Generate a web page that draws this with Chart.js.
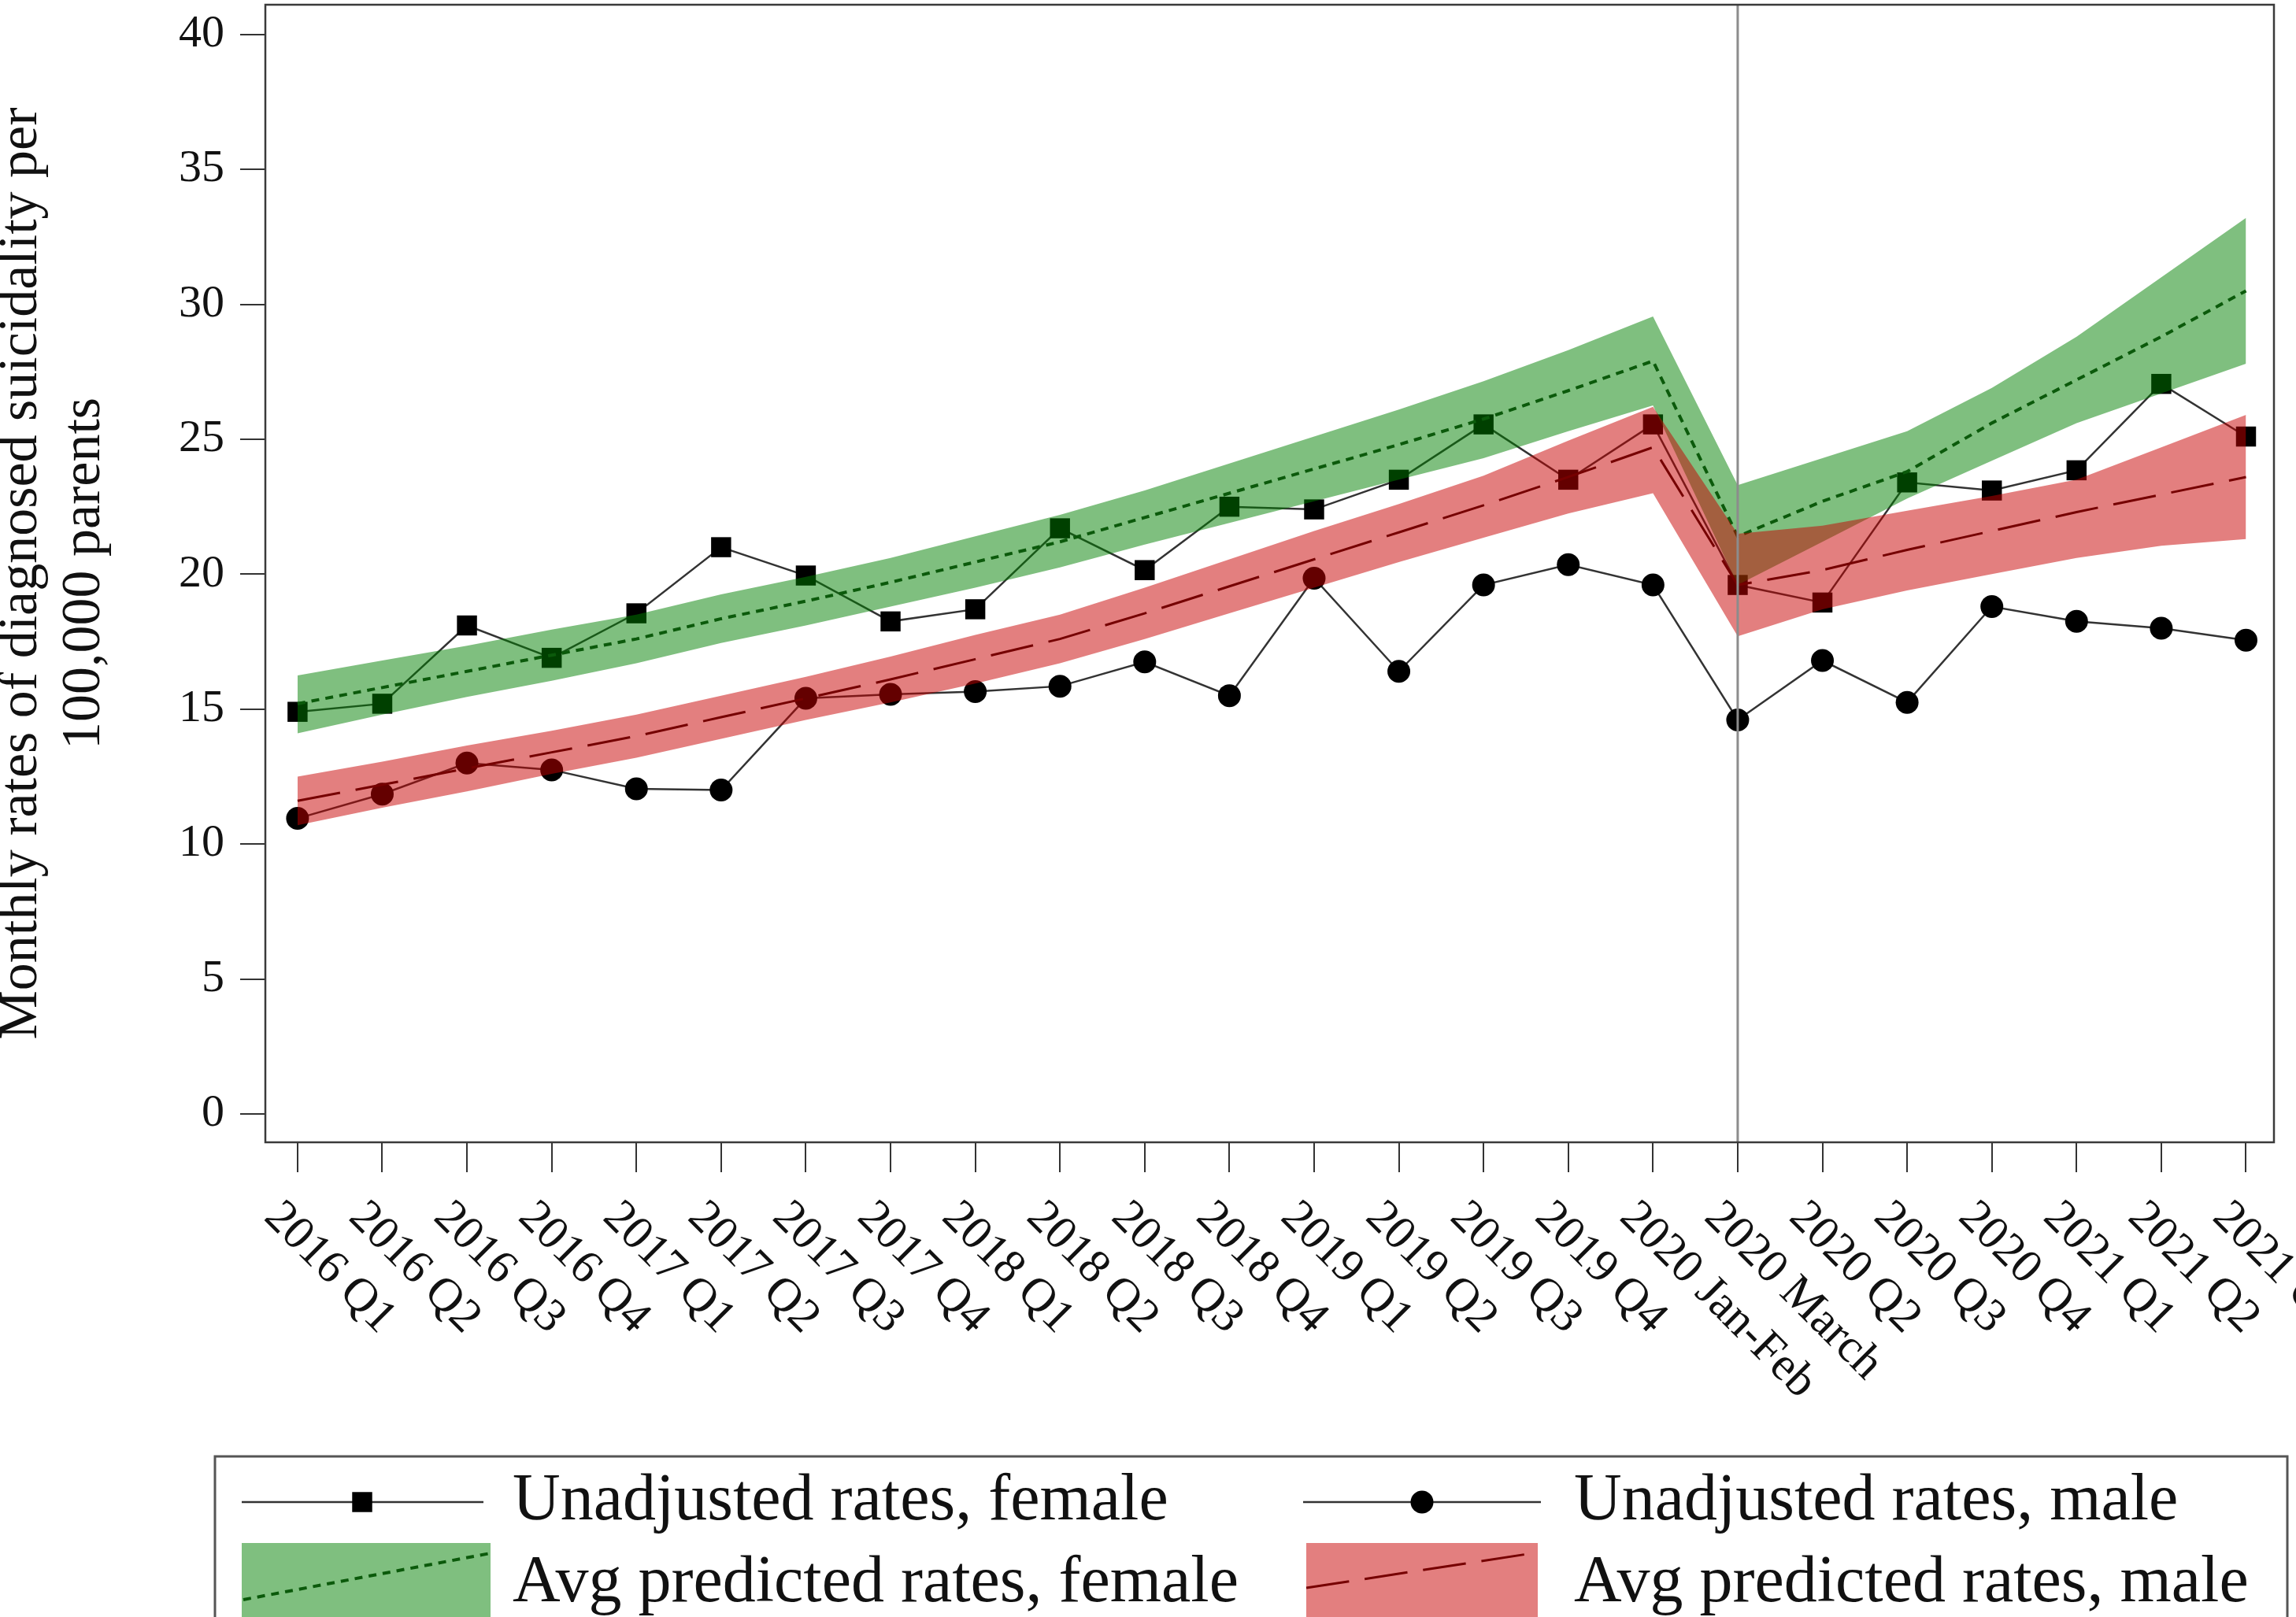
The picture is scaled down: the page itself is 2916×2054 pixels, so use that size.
<!DOCTYPE html>
<html>
<head>
<meta charset="utf-8">
<script src="https://cdn.jsdelivr.net/npm/chart.js@4.4.1/dist/chart.umd.min.js"></script>
<style>
  html, body { margin: 0; padding: 0; background: #fff; }
  #wrap { width: 2916px; height: 2054px; position: relative; }
</style>
</head>
<body>
<div id="wrap"><canvas id="chart-suicidality"></canvas></div>
<script>
/* ============================================
   SUICIDALITY RATES – UNADJUSTED VS PREDICTED
   ============================================ */

// ─── DATA ────────────────────────────────────────────────────
const PERIODS = [
  '2016 Q1', '2016 Q2', '2016 Q3', '2016 Q4',
  '2017 Q1', '2017 Q2', '2017 Q3', '2017 Q4',
  '2018 Q1', '2018 Q2', '2018 Q3', '2018 Q4',
  '2019 Q1', '2019 Q2', '2019 Q3', '2019 Q4',
  '2020 Jan-Feb', '2020 March', '2020 Q2', '2020 Q3', '2020 Q4',
  '2021 Q1', '2021 Q2', '2021 Q3'
];

const UNADJ_FEMALE = [14.9, 15.2, 18.1, 16.9, 18.55, 21.0, 19.95, 18.25, 18.7, 21.7, 20.15, 22.5,
  22.4, 23.5, 25.55, 23.5, 25.55, 19.6, 18.95, 23.4, 23.1, 23.85, 27.05, 25.1];
const UNADJ_MALE = [10.95, 11.85, 13.0, 12.75, 12.05, 12.0, 15.4, 15.55, 15.65, 15.85, 16.75, 15.5,
  19.85, 16.4, 19.6, 20.35, 19.6, 14.6, 16.8, 15.25, 18.8, 18.25, 18.0, 17.55];

const PRED_FEMALE = [15.2, 15.8, 16.4, 17.0, 17.6, 18.35, 19.0, 19.7, 20.45, 21.2, 22.1, 23.0,
  23.9, 24.8, 25.75, 26.8, 27.9, 21.4, 22.7, 23.8, 25.6, 27.2, 28.8, 30.5];
const PRED_FEMALE_HI = [16.25, 16.8, 17.35, 17.95, 18.5, 19.25, 19.9, 20.6, 21.4, 22.2, 23.1, 24.1,
  25.1, 26.1, 27.15, 28.3, 29.55, 23.3, 24.3, 25.3, 26.9, 28.8, 31.0, 33.2];
const PRED_FEMALE_LO = [14.1, 14.8, 15.45, 16.05, 16.7, 17.45, 18.1, 18.8, 19.5, 20.25, 21.1, 21.9,
  22.7, 23.5, 24.3, 25.3, 26.25, 19.6, 21.2, 22.8, 24.2, 25.6, 26.7, 27.8];

const PRED_MALE = [11.6, 12.2, 12.8, 13.4, 14.0, 14.7, 15.4, 16.1, 16.85, 17.6, 18.55, 19.55,
  20.55, 21.55, 22.55, 23.6, 24.7, 19.6, 20.15, 20.9, 21.6, 22.3, 22.95, 23.6];
const PRED_MALE_HI = [12.5, 13.05, 13.65, 14.2, 14.8, 15.5, 16.2, 16.95, 17.75, 18.5, 19.5, 20.55,
  21.6, 22.6, 23.65, 24.95, 26.2, 21.5, 21.8, 22.35, 22.9, 23.5, 24.7, 25.9];
const PRED_MALE_LO = [10.7, 11.35, 11.95, 12.6, 13.2, 13.9, 14.6, 15.25, 15.95, 16.7, 17.6, 18.55,
  19.5, 20.45, 21.35, 22.25, 23.0, 17.7, 18.7, 19.4, 20.0, 20.6, 21.05, 21.3];

const Y_TICKS = [0, 5, 10, 15, 20, 25, 30, 35, 40];
const BREAK_PERIOD = '2020 March';

const Y_TITLE = ['Monthly rates of diagnosed suicidality per', '100,000 parents'];
const LEGEND_TEXT = [
  'Unadjusted rates, female', 'Unadjusted rates, male',
  'Avg predicted rates, female', 'Avg predicted rates, male'
];

// ─── STYLE ───────────────────────────────────────────────────
const SERIF = "'Liberation Serif', 'Times New Roman', serif";
const GREEN_BAND = 'rgba(0,128,0,0.5)';
const RED_BAND = 'rgba(200,0,0,0.5)';
const GREEN_LINE = '#0b5a0b';
const RED_LINE = '#760000';
const GREEN_DASH = [10, 8];
const RED_DASH = [55, 20];
const SQUARE_R = 18;
const CIRCLE_R = 14.5;

const pts = arr => arr.map((v, i) => ({ x: i, y: v }));

// ─── OVERLAYS: box, break line, rotated labels, legend ───────
const overlay = {
  id: 'overlay',
  afterDatasetsDraw(chart) {
    const { ctx, chartArea: a, scales: { x } } = chart;
    ctx.save();
    // break line at 2020 March
    const bx = x.getPixelForValue(PERIODS.indexOf(BREAK_PERIOD));
    ctx.strokeStyle = '#8c8c8c';
    ctx.lineWidth = 3;
    ctx.beginPath();
    ctx.moveTo(bx, a.top);
    ctx.lineTo(bx, a.bottom);
    ctx.stroke();
    // plot frame
    ctx.strokeStyle = '#3a3a3a';
    ctx.lineWidth = 2.5;
    ctx.strokeRect(a.left, a.top, a.right - a.left, a.bottom - a.top);
    ctx.restore();
  },
  afterDraw(chart) {
    const { ctx, chartArea: a, scales: { x } } = chart;
    ctx.save();

    // x labels, rotated clockwise
    ctx.fillStyle = '#111';
    ctx.font = `60px ${SERIF}`;
    ctx.textAlign = 'left';
    ctx.textBaseline = 'middle';
    PERIODS.forEach((lab, i) => {
      const px = x.getPixelForValue(i);
      ctx.save();
      ctx.translate(px - 33, a.bottom + 86);
      ctx.rotate(Math.PI / 4);
      ctx.fillText(lab, 0, 0);
      ctx.restore();
    });

    // legend frame
    ctx.strokeStyle = '#555';
    ctx.lineWidth = 3;
    ctx.strokeRect(273, 1850, 2632, 400);

    const row1 = 1908, row2 = 2012;
    // female unadjusted
    ctx.strokeStyle = '#333';
    ctx.lineWidth = 2.5;
    ctx.beginPath(); ctx.moveTo(307, row1); ctx.lineTo(614, row1); ctx.stroke();
    ctx.fillStyle = '#000';
    const half = SQUARE_R * Math.SQRT1_2;
    ctx.fillRect(460 - half, row1 - half, 2 * half, 2 * half);
    // male unadjusted
    ctx.beginPath(); ctx.moveTo(1655, row1); ctx.lineTo(1957, row1); ctx.stroke();
    ctx.beginPath(); ctx.arc(1806, row1, CIRCLE_R, 0, Math.PI * 2); ctx.fill();

    // female predicted
    ctx.fillStyle = GREEN_BAND;
    ctx.fillRect(307, 1960, 316, 120);
    ctx.strokeStyle = GREEN_LINE;
    ctx.lineWidth = 4;
    ctx.setLineDash(GREEN_DASH);
    ctx.beginPath(); ctx.moveTo(309, 2032); ctx.lineTo(623, 1973); ctx.stroke();
    // male predicted
    ctx.fillStyle = RED_BAND;
    ctx.fillRect(1659, 1960, 294, 120);
    ctx.strokeStyle = RED_LINE;
    ctx.lineWidth = 3;
    ctx.setLineDash(RED_DASH);
    ctx.beginPath(); ctx.moveTo(1659, 2017); ctx.lineTo(1953, 1972); ctx.stroke();
    ctx.setLineDash([]);

    ctx.fillStyle = '#111';
    ctx.font = `84px ${SERIF}`;
    ctx.fillText(LEGEND_TEXT[0], 651, row1);
    ctx.fillText(LEGEND_TEXT[1], 1999, row1);
    ctx.fillText(LEGEND_TEXT[2], 651, row2);
    ctx.fillText(LEGEND_TEXT[3], 1999, row2);
    ctx.restore();
  }
};

// ─── CHART ───────────────────────────────────────────────────
Chart.defaults.font.family = SERIF;
Chart.defaults.color = '#111';

const unadj = (label, data, style, radius, order) => ({
  label, data: pts(data), order,
  borderColor: '#333', borderWidth: 2.5,
  pointStyle: style, pointRadius: radius, pointBorderWidth: 0,
  pointBackgroundColor: '#000', fill: false, tension: 0,
});

const edge = (label, data, order, fill, color) => ({
  label, data: pts(data), order,
  borderWidth: 0, borderColor: 'transparent', pointRadius: 0,
  backgroundColor: color, fill, tension: 0,
});

const pred = (label, data, order, color, dash, width) => ({
  label, data: pts(data), order,
  borderColor: color, borderWidth: width, borderDash: dash,
  pointRadius: 0, fill: false, tension: 0,
});

new Chart(document.getElementById('chart-suicidality'), {
  type: 'line',
  data: {
    datasets: [
      unadj('Unadjusted rates, male', UNADJ_MALE, 'circle', CIRCLE_R, 5),    // 0
      unadj('Unadjusted rates, female', UNADJ_FEMALE, 'rect', SQUARE_R, 4),  // 1
      edge('Female upper', PRED_FEMALE_HI, 3, 3, GREEN_BAND),                // 2
      edge('Female lower', PRED_FEMALE_LO, 3, false, 'transparent'),         // 3
      pred('Avg predicted rates, female', PRED_FEMALE, 2, GREEN_LINE, GREEN_DASH, 4), // 4
      edge('Male upper', PRED_MALE_HI, 1, 6, RED_BAND),                      // 5
      edge('Male lower', PRED_MALE_LO, 1, false, 'transparent'),             // 6
      pred('Avg predicted rates, male', PRED_MALE, 0, RED_LINE, RED_DASH, 3), // 7
    ]
  },
  options: {
    responsive: true,
    maintainAspectRatio: false,
    animation: false,
    events: [],
    layout: { autoPadding: false, padding: { top: 6, right: 28, bottom: 563, left: 0 } },
    plugins: {
      legend: { display: false },
      tooltip: { enabled: false },
    },
    scales: {
      x: {
        type: 'linear',
        min: -0.38,
        max: 23.33,
        afterBuildTicks: s => { s.ticks = PERIODS.map((_, i) => ({ value: i })); },
        afterFit: s => { s.height = 40; s.paddingLeft = 0; s.paddingRight = 0; },
        ticks: { display: false },
        border: { display: false },
        grid: { drawOnChartArea: false, tickLength: 38, color: '#333', lineWidth: 2 },
      },
      y: {
        min: -1.05,
        max: 41.1,
        afterBuildTicks: s => { s.ticks = Y_TICKS.map(v => ({ value: v })); },
        afterFit: s => { s.width = 337; s.paddingTop = 0; s.paddingBottom = 0; },
        ticks: { padding: 20, font: { size: 58 }, color: '#111' },
        border: { display: false },
        grid: { drawOnChartArea: false, tickLength: 32, color: '#333', lineWidth: 2 },
        title: {
          display: true,
          text: Y_TITLE,
          font: { size: 70, lineHeight: 1.14 },
          color: '#111',
          padding: { top: -12, bottom: 0 },
        },
      }
    }
  },
  plugins: [overlay]
});
</script>
</body>
</html>
